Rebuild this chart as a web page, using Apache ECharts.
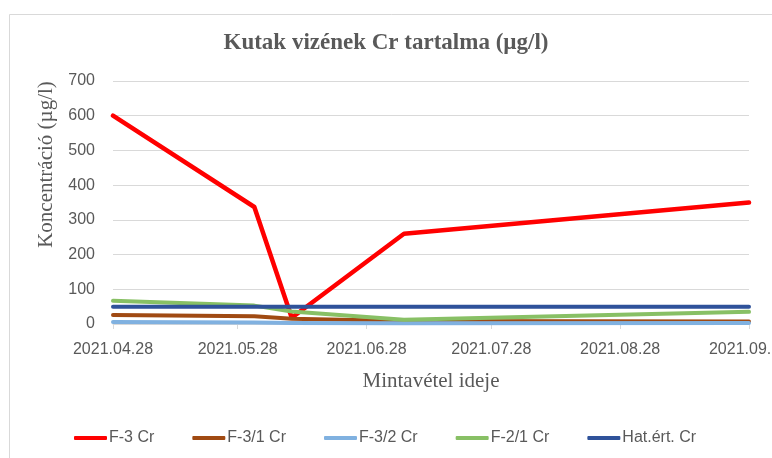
<!DOCTYPE html>
<html>
<head>
<meta charset="utf-8">
<script src="https://cdn.jsdelivr.net/npm/echarts@6/dist/echarts.min.js"></script>
<style>
html,body{margin:0;padding:0;background:#fff;}
#chart{width:772px;height:458px;}
</style>
</head>
<body>
<div id="chart"></div>
<script>
// ---- data ----
const titleText = 'Kutak vizének Cr tartalma (µg/l)';
const yAxisName = 'Koncentráció (µg/l)';
const xAxisName = 'Mintavétel ideje';
const tickLabels = ['2021.04.28', '2021.05.28', '2021.06.28', '2021.07.28', '2021.08.28', '2021.09.28'];
const sampleDates = ['2021.04.28', '2021.06.01', '2021.06.10', '2021.07.07', '2021.09.28'];
const seriesNames = ['F-3 Cr', 'F-3/1 Cr', 'F-3/2 Cr', 'F-2/1 Cr', 'Hat.ért. Cr'];
const f3Cr = [600, 337, 18, 260, 350];
const f31Cr = [26, 22, 15, 9, 7];
const f32Cr = [6, 4, 3, 2, 3];
const f21Cr = [67, 53, 36, 12, 35];
const hatErtCr = [50, 50, 50, 50, 50];
const yMin = 0, yMax = 700, yStep = 100;

// ---- helpers ----
function parseDate(s) {
  const p = s.split('.').map(Number);
  return Date.UTC(p[0], p[1] - 1, p[2]);
}
const tickValues = tickLabels.map(parseDate);
const sampleTimes = sampleDates.map(parseDate);
function pairs(vals) { return vals.map((v, i) => [sampleTimes[i], v]); }

const colors = ['#ff0000', '#a04a12', '#80b1e0', '#88c065', '#2f529a'];
const widths = [4.5, 4, 4, 4, 4];
const valuesList = [f3Cr, f31Cr, f32Cr, f21Cr, hatErtCr];

const chart = echarts.init(document.getElementById('chart'), null, { renderer: 'canvas' });
chart.setOption({
  animation: false,
  backgroundColor: '#ffffff',
  graphic: [{
    type: 'rect', left: 7, top: 12, z: -10,
    shape: { width: 820, height: 500 },
    style: { fill: 'none', stroke: '#d9d9d9', lineWidth: 1 }
  }],
  title: {
    text: titleText,
    left: 'center',
    top: 32,
    padding: 0,
    textStyle: { fontFamily: 'Liberation Serif', fontWeight: 'bold', fontSize: 23, color: '#595959' }
  },
  grid: { left: 113, right: 23, top: 81, bottom: 134, containLabel: false, outerBoundsMode: 'none' },
  legend: {
    data: seriesNames,
    left: 69,
    top: 425,
    icon: 'roundRect',
    itemWidth: 33,
    itemHeight: 4,
    itemGap: 38,
    textStyle: { fontFamily: 'Liberation Sans', fontSize: 16, color: '#595959', padding: [0, 0, 0, -3] }
  },
  xAxis: {
    type: 'value',
    min: tickValues[0],
    max: tickValues[tickValues.length - 1],
    name: xAxisName,
    nameLocation: 'middle',
    nameGap: 47,
    nameTextStyle: { fontFamily: 'Liberation Serif', fontSize: 21, color: '#595959' },
    axisLine: { show: true, lineStyle: { color: '#d9d9d9', width: 1 } },
    axisTick: { show: true, length: 5, lineStyle: { color: '#d9d9d9' }, customValues: tickValues },
    axisLabel: {
      customValues: tickValues,
      margin: 18,
      fontFamily: 'Liberation Sans', fontSize: 16, color: '#595959',
      formatter: function (v) {
        const i = tickValues.indexOf(v);
        return i >= 0 ? tickLabels[i] : '';
      }
    },
    splitLine: { show: false }
  },
  yAxis: {
    type: 'value',
    min: yMin, max: yMax, interval: yStep,
    name: yAxisName,
    nameLocation: 'middle',
    nameGap: 56,
    nameTextStyle: { fontFamily: 'Liberation Serif', fontSize: 21, color: '#595959', padding: [0, 0, 0, 76] },
    axisLine: { show: false },
    axisTick: { show: false },
    axisLabel: { margin: 18, fontFamily: 'Liberation Sans', fontSize: 16, color: '#595959' },
    splitLine: { lineStyle: { color: '#d9d9d9', width: 1 } }
  },
  series: seriesNames.map((n, i) => ({
    name: n,
    type: 'line',
    data: pairs(valuesList[i]),
    showSymbol: false,
    symbol: 'none',
    color: colors[i],
    lineStyle: { color: colors[i], width: widths[i], join: 'round', cap: 'round' },
    z: 2 + i
  }))
});
</script>
</body>
</html>
